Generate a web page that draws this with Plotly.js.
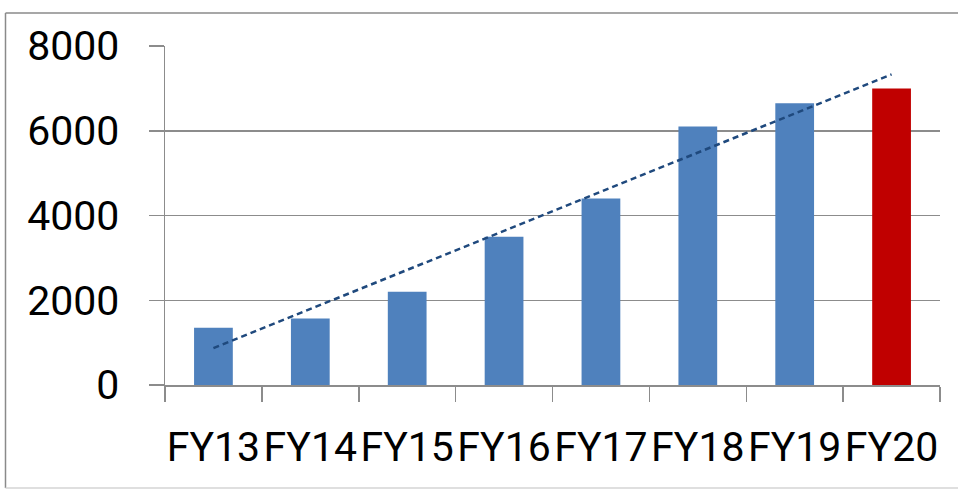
<!DOCTYPE html>
<html>
<head>
<meta charset="utf-8">
<script src="https://cdn.plot.ly/plotly-3.0.1.min.js"></script>
<style>
  html, body { margin: 0; padding: 0; background: #ffffff; }
  #chart { width: 958px; height: 491px; }
</style>
</head>
<body>
<div id="chart"></div>
<script>
// ---- data ----
const categories = ['FY13', 'FY14', 'FY15', 'FY16', 'FY17', 'FY18', 'FY19', 'FY20'];
const values = [1350, 1570, 2200, 3500, 4400, 6100, 6650, 7000];
const barColors = ['#4f81bd', '#4f81bd', '#4f81bd', '#4f81bd', '#4f81bd', '#4f81bd', '#4f81bd', '#c00000'];
const trendCategories = ['FY13', 'FY20'];
const trendValues = [870, 7330];
const yTickValues = [0, 2000, 4000, 6000, 8000];
const yTickLabels = ['0', '2000', '4000', '6000', '8000'];

const W = 958, H = 491;
const M = { l: 165, r: 18, t: 46, b: 106 };
const pw = W - M.l - M.r, ph = H - M.t - M.b;
const px = v => (v - M.l) / pw;
const py = v => (H - M.b - v) / ph;

const traces = [
  {
    type: 'bar',
    x: categories,
    y: values,
    marker: { color: barColors, line: { width: 0 } },
    width: 0.4,
    hoverinfo: 'x+y',
    showlegend: false
  },
  {
    type: 'scatter',
    mode: 'lines',
    x: trendCategories,
    y: trendValues,
    line: { color: '#1f497d', width: 2.5, dash: '6px,4px' },
    hoverinfo: 'skip',
    showlegend: false
  }
];

const frameColor = '#8a8a8a';
const labelFont = { size: 41, family: 'Roboto, "Open Sans", sans-serif', color: '#000000' };
const layout = {
  width: W,
  height: H,
  margin: M,
  paper_bgcolor: '#ffffff',
  plot_bgcolor: '#ffffff',
  showlegend: false,
  font: { family: 'Roboto, sans-serif', color: '#000000' },
  xaxis: {
    type: 'category',
    categoryorder: 'array',
    categoryarray: categories,
    range: [-0.5, 7.5],
    showline: true,
    linecolor: '#8c8c8c',
    linewidth: 1.5,
    ticks: 'outside',
    tickson: 'boundaries',
    ticklen: 15,
    tickwidth: 1.5,
    tickcolor: '#8c8c8c',
    showgrid: false,
    tickangle: 0,
    ticklabelstandoff: 25,
    tickfont: labelFont,
    fixedrange: true
  },
  yaxis: {
    range: [0, 8000],
    tickvals: yTickValues,
    ticktext: yTickLabels,
    showline: true,
    linecolor: '#8c8c8c',
    linewidth: 1.5,
    ticks: 'outside',
    ticklen: 15,
    tickwidth: 1.5,
    tickcolor: '#8c8c8c',
    showgrid: true,
    gridcolor: '#8c8c8c',
    gridwidth: 1.5,
    zeroline: false,
    ticklabelstandoff: 21,
    tickfont: labelFont,
    fixedrange: true
  },
  shapes: [
    { type: 'line', xref: 'paper', yref: 'paper', x0: px(5.5), x1: px(5.5), y0: py(13), y1: py(488), line: { color: frameColor, width: 1.5 } },
    { type: 'line', xref: 'paper', yref: 'paper', x0: px(5.5), x1: px(960), y0: py(13), y1: py(13), line: { color: frameColor, width: 1.5 } },
    { type: 'line', xref: 'paper', yref: 'paper', x0: px(5.5), x1: px(960), y0: py(488), y1: py(488), line: { color: '#d4d4d4', width: 1.5 } }
  ]
};

Plotly.newPlot('chart', traces, layout, { displayModeBar: false, staticPlot: true });
</script>
</body>
</html>
